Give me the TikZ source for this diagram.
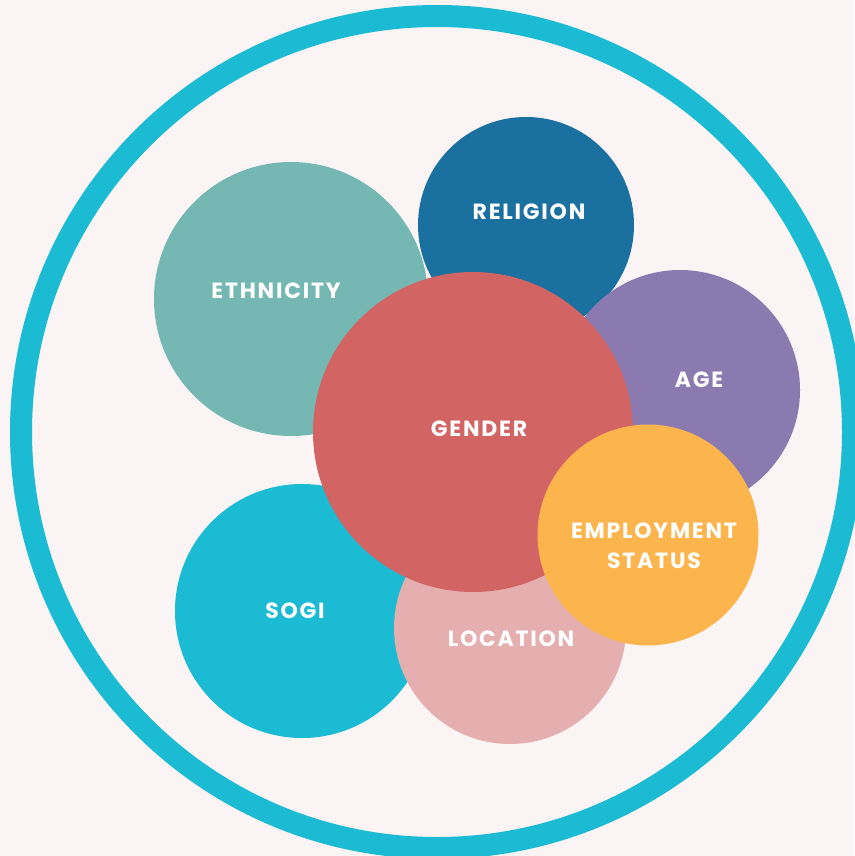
\documentclass[tikz,border=0pt]{standalone}
\usepackage{fontspec}
\setmainfont{Poppins}
\usetikzlibrary{positioning}
\definecolor{paper}{HTML}{FAF4F4}
\definecolor{ringcyan}{HTML}{1BBBD3}
\definecolor{ethteal}{HTML}{75B8B3}
\definecolor{relblue}{HTML}{1A709E}
\definecolor{agepurple}{HTML}{8A7AB0}
\definecolor{genred}{HTML}{D36464}
\definecolor{empyellow}{HTML}{FCB54D}
\definecolor{locpink}{HTML}{E6AFAF}
\tikzset{
  bubble/.style={circle,inner sep=0pt,minimum size=#1},
  tag/.style={text=white,inner sep=0pt,align=center,
    font=\bfseries\fontsize{22}{30}\selectfont\addfontfeature{LetterSpace=8}}
}
\begin{document}
\begin{tikzpicture}[x=1pt,y=-1pt]
    % page and outer ring
    \fill[paper] (0,0) rectangle (854,856);
    \useasboundingbox (0,0) rectangle (854,856);
    \node[bubble=832pt,draw=ringcyan,line width=22pt] (ring) at (437,432) {};

    % circles, back to front
    \node[bubble=274pt,fill=ethteal] (ethnicity) at (291,299) {};
    \node[bubble=216pt,fill=relblue] (religion) at (526,225) {};
    \node[bubble=240pt,fill=agepurple] (age) at (680,390) {};
    \node[bubble=254pt,fill=ringcyan] (sogi) at (302,611) {};
    \node[bubble=232pt,fill=locpink] (location) at (510,628) {};
    \node[bubble=320pt,fill=genred] (gender) at (473,432) {};
    \node[bubble=221pt,fill=empyellow] (employment) at (648,535) {};

    % labels
    \node[tag] (ethnicitytxt) at (276,291) {ETHNICITY};
    \node[tag] (religiontxt) at (529,212) {RELIGION};
    \node[tag] (agetxt) at (699,380) {AGE};
    \node[tag] (sogitxt) at (295,611) {SOGI};
    \node[tag] (locationtxt) at (511,639) {LOCATION};
    \node[tag] (gendertxt) at (479,429) {GENDER};
    \node[tag] (employmenttxt) at (654,546) {EMPLOYMENT\\STATUS};
\end{tikzpicture}
\end{document}
